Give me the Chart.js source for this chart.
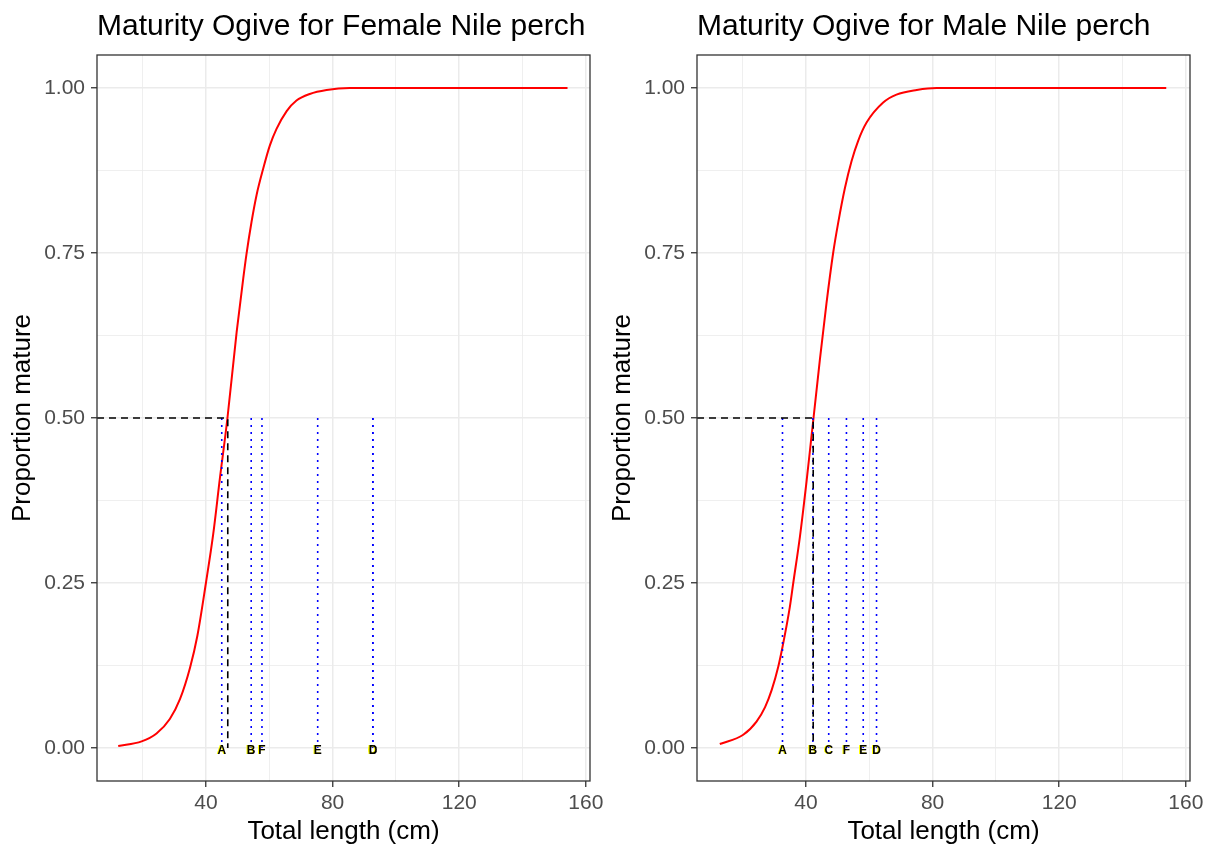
<!DOCTYPE html>
<html>
<head>
<meta charset="utf-8">
<script src="https://cdn.jsdelivr.net/npm/chart.js@4.4.0/dist/chart.umd.min.js"></script>
<style>
body { margin: 0; background: #fff; }
#wrap { position: relative; width: 1209px; height: 847px; }
canvas { position: absolute; top: 0; }
</style>
</head>
<body>
<div id="wrap">
  <canvas id="female" width="620" height="847" style="left:0px"></canvas>
  <canvas id="male" width="609" height="847" style="left:600px"></canvas>
</div>
<script>
// fitted ogives
const femaleLength = [12.3, 19.7, 24.4, 28.6, 31.8, 35.0, 37.3, 40.0, 42.3, 44.4, 46.8, 49.7, 51.8, 52.8, 54.4, 56.0, 58.1, 60.2, 62.3, 65.5, 68.6, 72.8, 78.1, 85.4, 100, 120, 140, 154.2];
const femaleProp = [0.003, 0.010, 0.022, 0.044, 0.074, 0.122, 0.170, 0.250, 0.324, 0.408, 0.500, 0.630, 0.712, 0.748, 0.797, 0.838, 0.878, 0.913, 0.938, 0.965, 0.981, 0.991, 0.997, 1.0, 1.0, 1.0, 1.0, 1.0];
const maleLength = [12.8, 20.2, 24.4, 27.1, 29.2, 31.3, 32.6, 34.9, 36.0, 38.1, 40.2, 41.8, 42.4, 44.4, 46.5, 48.6, 50.2, 52.3, 54.4, 56.5, 59.2, 64.4, 68.6, 75.0, 81.3, 100, 120, 140, 153.8];
const maleProp = [0.006, 0.020, 0.040, 0.062, 0.088, 0.124, 0.153, 0.213, 0.250, 0.320, 0.404, 0.474, 0.500, 0.588, 0.674, 0.750, 0.796, 0.848, 0.889, 0.920, 0.948, 0.978, 0.990, 0.997, 1.0, 1.0, 1.0, 1.0, 1.0];

const femaleL50 = 46.9;
const maleL50 = 42.3;

// sites A-F
const letters = ['A', 'B', 'C', 'D', 'E', 'F'];
const femaleLetterLength = [45.0, 54.3, 92.7, 92.8, 75.3, 57.7];
const maleLetterLength = [32.6, 42.2, 47.2, 62.3, 58.1, 52.8];

const xTicks = [40, 80, 120, 160];
const xMinorTicks = [20, 60, 100, 140];
const yTicks = [0, 0.25, 0.5, 0.75, 1];
const yTickLabels = ['0.00', '0.25', '0.50', '0.75', '1.00'];
const yMinorTicks = [0.125, 0.375, 0.625, 0.875];

const xMin = 5.6, xMax = 161.3;
const yMin = -0.05, yMax = 1.05;

Chart.defaults.font.family = "'Liberation Sans', Arial, sans-serif";
Chart.defaults.animation = false;

function makeChart(id, title, len, prop, l50, letterLen, padRight) {
  let curve = len.map((x, i) => ({x: x, y: prop[i]}));
  let dots = [];
  letterLen.forEach(x => { dots.push({x: x, y: 0.5}, {x: x, y: 0}, {x: x, y: null}); });
  let dash = [{x: xMin, y: 0.5}, {x: l50, y: 0.5}, {x: l50, y: 0}];

  let panelBits = {
    id: 'panelBits',
    afterDatasetsDraw(chart) {
      let ctx = chart.ctx, a = chart.chartArea;
      let xs = chart.scales.x, ys = chart.scales.y;
      ctx.save();
      ctx.font = "bold 12px 'Liberation Sans', Arial, sans-serif";
      ctx.textAlign = 'center';
      ctx.textBaseline = 'middle';
      letters.forEach((l, i) => {
        let px = xs.getPixelForValue(letterLen[i]);
        let py = ys.getPixelForValue(0) + 3;
        ctx.fillStyle = '#FFFF00';
        ctx.fillText(l, px - 1, py - 0.5);
        ctx.fillStyle = '#000000';
        ctx.fillText(l, px, py);
      });
      ctx.strokeStyle = '#333333';
      ctx.lineWidth = 1.3;
      ctx.strokeRect(a.left, a.top, a.right - a.left, a.bottom - a.top);
      ctx.restore();
    }
  };

  return new Chart(document.getElementById(id), {
    type: 'line',
    data: {
      datasets: [
        {data: dash, borderColor: '#000000', borderWidth: 1.6, borderDash: [7, 5], pointRadius: 0, order: 1},
        {data: dots, borderColor: '#0000FF', borderWidth: 1.6, borderDash: [2, 5], pointRadius: 0, spanGaps: false, order: 2},
        {data: curve, borderColor: '#FF0000', borderWidth: 2, pointRadius: 0, cubicInterpolationMode: 'monotone', order: 3}
      ]
    },
    options: {
      responsive: false,
      devicePixelRatio: 1,
      layout: {padding: {left: 0, right: padRight, top: 0, bottom: 0}},
      plugins: {
        legend: {display: false},
        tooltip: {enabled: false},
        title: {
          display: true, text: title, align: 'start', fullSize: false,
          color: '#000000', font: {size: 30, weight: 'normal'},
          padding: {top: 9, bottom: 10}
        }
      },
      scales: {
        x: {
          type: 'linear', min: xMin, max: xMax,
          afterBuildTicks: s => { s.ticks = xMinorTicks.concat(xTicks).sort((a, b) => a - b).map(v => ({value: v})); },
          afterFit: s => { s.height = 66; },
          ticks: {
            autoSkip: false, maxRotation: 0, padding: 4, color: '#4D4D4D', font: {size: 21},
            callback: v => xTicks.indexOf(v) < 0 ? '' : String(v)
          },
          grid: {
            color: '#EBEBEB',
            lineWidth: c => xTicks.includes(c.tick.value) ? 1.5 : 0.8,
            tickColor: c => xTicks.includes(c.tick.value) ? '#333333' : 'rgba(0,0,0,0)',
            tickLength: 6, tickWidth: 1.3
          },
          border: {display: false},
          title: {display: true, text: 'Total length (cm)', color: '#000000', font: {size: 26}, padding: {top: 0, bottom: 0}}
        },
        y: {
          type: 'linear', min: yMin, max: yMax,
          afterBuildTicks: s => { s.ticks = yTicks.concat(yMinorTicks).sort((a, b) => a - b).map(v => ({value: v})); },
          afterFit: s => { s.width = 97; },
          ticks: {
            autoSkip: false, padding: 6, color: '#4D4D4D', font: {size: 21},
            callback: v => { let i = yTicks.indexOf(v); return i < 0 ? '' : yTickLabels[i]; }
          },
          grid: {
            color: '#EBEBEB',
            lineWidth: c => yTicks.includes(c.tick.value) ? 1.5 : 0.8,
            tickColor: c => yTicks.includes(c.tick.value) ? '#333333' : 'rgba(0,0,0,0)',
            tickLength: 6, tickWidth: 1.3
          },
          border: {display: false},
          title: {display: true, text: 'Proportion mature', color: '#000000', font: {size: 26}, padding: {top: 7, bottom: 0}}
        }
      }
    },
    plugins: [panelBits]
  });
}

makeChart('female', 'Maturity Ogive for Female Nile perch', femaleLength, femaleProp, femaleL50, femaleLetterLength, 30);
makeChart('male', 'Maturity Ogive for Male Nile perch', maleLength, maleProp, maleL50, maleLetterLength, 19);
</script>
</body>
</html>
